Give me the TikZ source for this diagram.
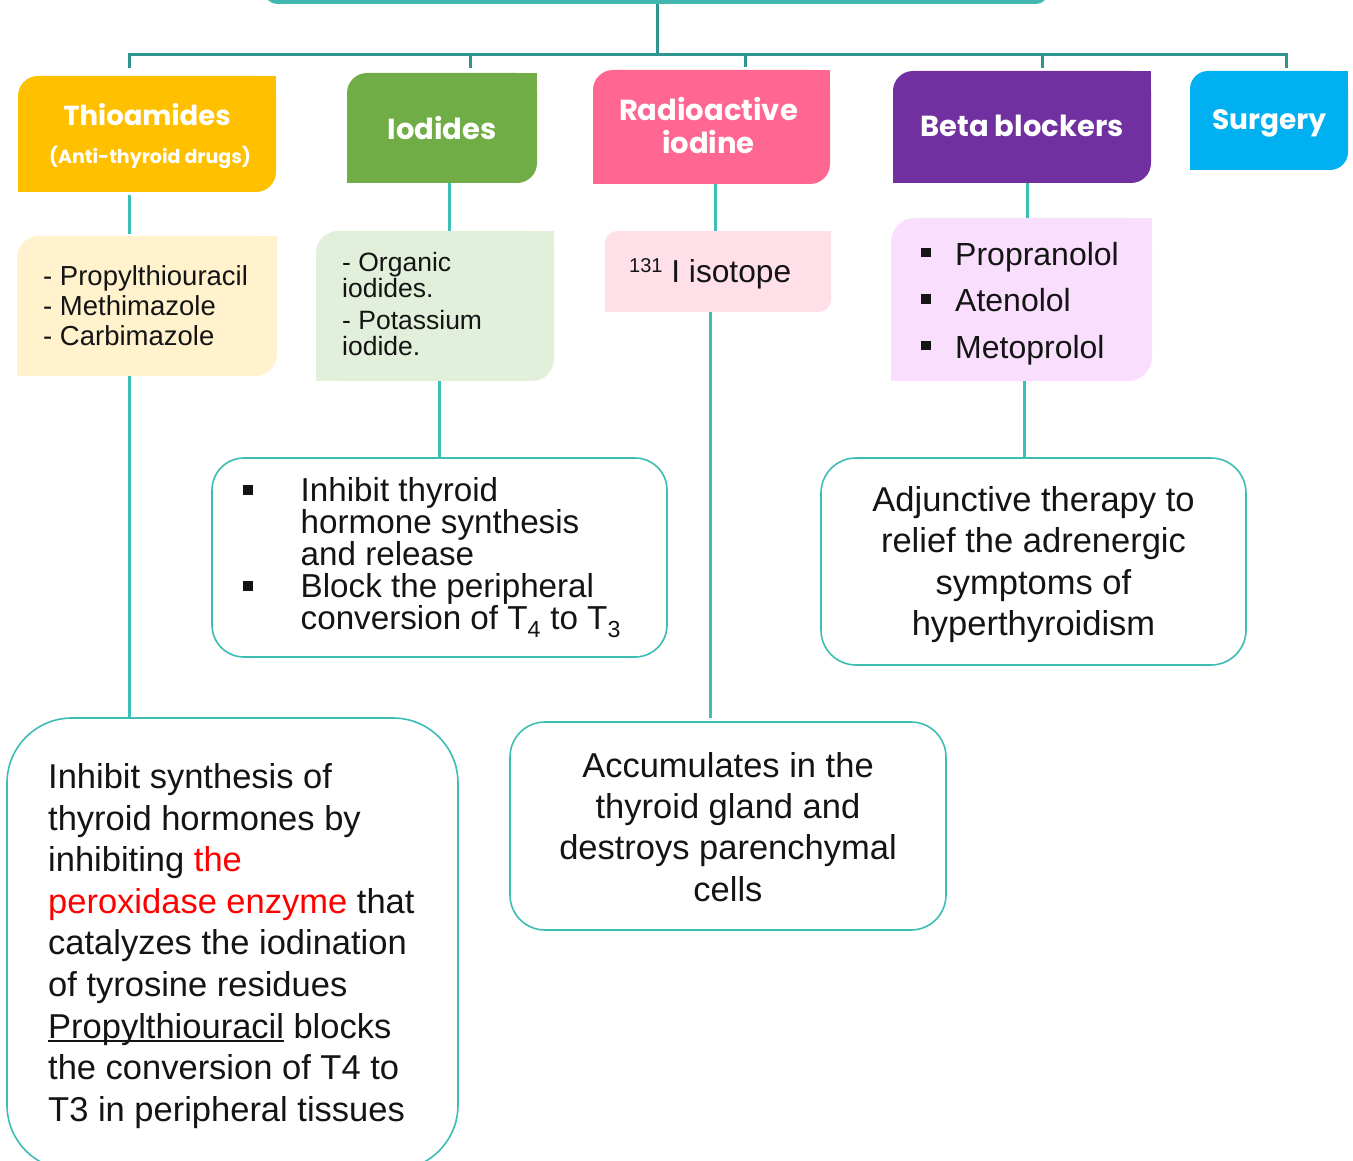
\documentclass[tikz,border=0pt]{standalone}
\usepackage{fontspec}
\setmainfont{Liberation Sans}
\newfontfamily\headfont{Poppins}
\usetikzlibrary{calc}
\definecolor{rootc}{HTML}{40B8B0}
\definecolor{busc}{HTML}{2E9590}
\definecolor{linec}{HTML}{3CBFB6}
\definecolor{mechc}{HTML}{3CBDB3}
\definecolor{thioc}{HTML}{FFC000}
\definecolor{iodc}{HTML}{70AD47}
\definecolor{radc}{HTML}{FF6692}
\definecolor{betac}{HTML}{7030A0}
\definecolor{surgc}{HTML}{00B0F0}
\definecolor{thiol}{HTML}{FFF2CC}
\definecolor{iodl}{HTML}{E2EFDA}
\definecolor{radl}{HTML}{FFE0E8}
\definecolor{betal}{HTML}{F9DEFE}
\definecolor{txtc}{HTML}{141414}
\newcommand\diagfill[6]{%
  \fill[#1, rounded corners=#6pt] (#2,#3) rectangle (#4,#5);
  \fill[#1] ({#4-#6},#3) rectangle (#4,{#3+#6});
  \fill[#1] (#2,{#5-#6}) rectangle ({#2+#6},#5);
}
\newcommand\mkbox[6][]{%
  \node[inner sep=0pt, outer sep=0pt, minimum width={(#5-#3)*1pt},
        minimum height={(#6-#4)*1pt}, #1] (#2) at ({(#3+#5)/2},{(#4+#6)/2}) {};
}
\newcommand\sqbul[1]{\rule[#1]{9.5pt}{9.5pt}}
\newcommand\myul[1]{\setbox0\hbox{#1}\rlap{\rule[-3.5pt]{\wd0}{1.6pt}}\box0\relax}
\tikzset{
  bus/.style={draw=busc, line width=3pt},
  link/.style={draw=linec, line width=3pt},
  mech/.style={draw=mechc, line width=1.6pt, fill=white},
  head/.style={text=white, font=\headfont\bfseries\fontsize{29}{33}\selectfont, align=center, inner sep=0pt},
  body/.style={text=txtc, align=left, inner sep=0pt},
  bodyc/.style={text=txtc, align=center, inner sep=0pt, font=\fontsize{34.5}{41.2}\selectfont},
}
\begin{document}
\begin{tikzpicture}[x=1pt,y=-1pt]
\useasboundingbox (0,0) rectangle (1353,1161);

% root (top, mostly outside the picture)
\fill[rootc, rounded corners=12pt] (265,-40) rectangle (1048,4);
\mkbox{root}{265}{-40}{1048}{4}

% header boxes
\diagfill{thioc}{18}{76}{276}{192}{20}
\diagfill{iodc}{347}{73}{537}{183}{20}
\diagfill{radc}{593}{70}{830}{184}{20}
\diagfill{betac}{893}{71}{1151}{183}{20}
\diagfill{surgc}{1190}{71}{1348}{170}{18}
\mkbox{thio}{18}{76}{276}{192}
\mkbox{iod}{347}{73}{537}{183}
\mkbox{rad}{593}{70}{830}{184}
\mkbox{beta}{893}{71}{1151}{183}
\mkbox{surg}{1190}{71}{1348}{170}

% light list boxes
\diagfill{thiol}{17}{236}{277}{376}{22}
\diagfill{iodl}{316}{231}{554}{381}{22}
\diagfill{radl}{605}{231}{831}{312}{12}
\diagfill{betal}{891}{218}{1152}{381}{24}
\mkbox{thioL}{17}{236}{277}{376}
\mkbox{iodL}{316}{231}{554}{381}
\mkbox{radL}{605}{231}{831}{312}
\mkbox{betaL}{891}{218}{1152}{381}

% mechanism boxes
\mkbox[mech, rounded corners=32pt]{mA}{212}{458}{667}{657}
\mkbox[mech, rounded corners=65pt]{mB}{7}{718}{458}{1170}
\mkbox[mech, rounded corners=35pt]{mC}{510}{722}{946}{930}
\mkbox[mech, rounded corners=35pt]{mD}{821}{458}{1246}{665}

% tree connectors
\coordinate (j) at (657,55);
\coordinate (b1) at (129,55);
\coordinate (b2) at (470,55);
\coordinate (b3) at (745,55);
\coordinate (b4) at (1042,55);
\coordinate (b5) at (1286,55);
\draw[bus] (root.south -| j) -- (j);
\draw[bus, line cap=rect] (b1) -- (b5);
\draw[bus, shorten >=8pt] (b1) -- (thio.north -| b1);
\draw[bus, shorten >=5pt] (b2) -- (iod.north -| b2);
\draw[bus, shorten >=3pt] (b3) -- (rad.north -| b3);
\draw[bus, shorten >=3pt] (b4) -- (beta.north -| b4);
\draw[bus, shorten >=3pt] (b5) -- (surg.north -| b5);

% branch connectors
\coordinate (c2u) at (449,0);
\coordinate (c2d) at (439,0);
\coordinate (c3u) at (715,0);
\coordinate (c3d) at (710,0);
\coordinate (c4u) at (1027,0);
\coordinate (c4d) at (1024,0);
\draw[link, shorten <=3pt, shorten >=2pt] (thio.south -| b1) -- (thioL.north -| b1);
\draw[link] (thioL.south -| b1) -- (mB.north -| b1);
\draw[link] (iod.south -| c2u) -- (iodL.north -| c2u);
\draw[link] (iodL.south -| c2d) -- (mA.north -| c2d);
\draw[link] (rad.south -| c3u) -- (radL.north -| c3u);
\draw[link, shorten >=4pt] (radL.south -| c3d) -- (mC.north -| c3d);
\draw[link] (beta.south -| c4u) -- (betaL.north -| c4u);
\draw[link] (betaL.south -| c4d) -- (mD.north -| c4d);

% header texts
\node[head, font=\headfont\bfseries\fontsize{27.5}{33}\selectfont] (thioT) at ([yshift=19pt]thio.center) {Thioamides};
\node[head, font=\headfont\bfseries\fontsize{19}{22}\selectfont] (thioS) at ([xshift=3pt,yshift=-23pt]thio.center) {(Anti-thyroid drugs)};
\node[head] (iodT) at (iod.center) {Iodides};
\node[head] (radT) at ([xshift=-3pt,yshift=1.5pt]rad.center) {Radioactive\\iodine};
\node[head] (betaT) at ([yshift=1pt]beta.center) {Beta blockers};
\node[head, font=\headfont\bfseries\fontsize{28}{33}\selectfont] (surgT) at ([yshift=-3pt]surg.center) {Surgery};

% list texts
\node[body, anchor=west, font=\fontsize{27.5}{30}\selectfont] (thioLT) at ([xshift=26pt]thioL.west)
  {- Propylthiouracil\\- Methimazole\\- Carbimazole};
\node[body, anchor=west, font=\fontsize{26.5}{26}\selectfont] (iodLT) at ([xshift=26pt,yshift=2pt]iodL.west)
  {- Organic\\iodides.\\[6pt]- Potassium\\iodide.};
\node[body, anchor=west, font=\fontsize{31.7}{36}\selectfont] (radLT) at ([xshift=24pt,yshift=-2pt]radL.west)
  {\raisebox{10pt}{\fontsize{20}{20}\selectfont 131} I isotope};
\node[body, anchor=west, font=\fontsize{32}{46.5}\selectfont] (betaLT) at ([xshift=30pt,yshift=-4pt]betaL.west)
  {\sqbul{8pt}\hspace{24.5pt}Propranolol\\\sqbul{8pt}\hspace{24.5pt}Atenolol\\\sqbul{8pt}\hspace{24.5pt}Metoprolol};

% mechanism texts
\node[body, anchor=west, font=\fontsize{33.2}{32}\selectfont] (mAT) at ([xshift=31pt]mA.west)
  {\sqbul{7pt}\hspace{48pt}Inhibit thyroid\\
   \hspace*{57.5pt}hormone synthesis\\
   \hspace*{57.5pt}and release\\
   \sqbul{7pt}\hspace{48pt}Block the peripheral\\
   \hspace*{57.5pt}conversion of T\textsubscript{4} to T\textsubscript{3}};
\node[body, anchor=west, font=\fontsize{34.5}{41.6}\selectfont] (mBT) at ([xshift=41pt,yshift=-2pt]mB.west)
  {Inhibit synthesis of\\
   thyroid hormones by\\
   inhibiting \textcolor{red}{the}\\
   \textcolor{red}{peroxidase enzyme} that\\
   catalyzes the iodination\\
   of tyrosine residues\\
   \myul{Propylthiouracil} blocks\\
   the conversion of T4 to\\
   T3 in peripheral tissues};
\node[bodyc] (mCT) at ([yshift=-1pt]mC.center)
  {Accumulates in the\\thyroid gland and\\destroys parenchymal\\cells};
\node[bodyc] (mDT) at ([yshift=-3pt]mD.center)
  {Adjunctive therapy to\\relief the adrenergic\\symptoms of\\hyperthyroidism};
\end{tikzpicture}
\end{document}
